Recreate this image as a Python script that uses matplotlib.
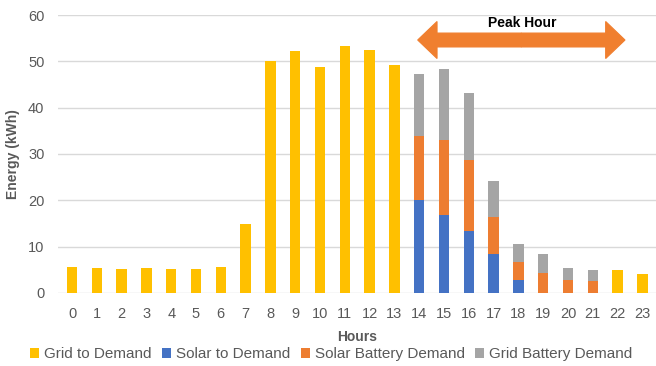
import numpy as np
import matplotlib
matplotlib.use('Agg')
import matplotlib.pyplot as plt
from matplotlib.patches import FancyArrow

plt.rcParams['font.family'] = ['Liberation Sans', 'DejaVu Sans']

hours = list(range(24))
grid_to_demand = [5.5, 5.4, 5.2, 5.3, 5.2, 5.2, 5.5, 14.9, 50.0, 52.2, 48.8, 53.3, 52.5, 49.3,
                  0, 0, 0, 0, 0, 0, 0, 0, 4.9, 4.1]
solar_to_demand = [0]*14 + [20.1, 16.9, 13.4, 8.3, 2.7, 0, 0, 0, 0, 0]
solar_battery = [0]*14 + [13.8, 16.0, 15.2, 8.0, 3.9, 4.2, 2.7, 2.5, 0, 0]
grid_battery = [0]*14 + [13.3, 15.4, 14.5, 7.8, 4.0, 4.1, 2.6, 2.4, 0, 0]

c_grid = '#FFC000'
c_solar = '#4472C4'
c_sbat = '#ED7D31'
c_gbat = '#A5A5A5'
txt = '#595959'

fig = plt.figure(figsize=(6.56, 3.66), dpi=100)
ax = fig.add_axes([0.089, 0.2, 0.911, 0.759])

x = np.arange(len(hours))
w = 0.42
g = np.array(grid_to_demand)
s = np.array(solar_to_demand)
sb = np.array(solar_battery)
gb = np.array(grid_battery)

ax.bar(x, g, w, color=c_grid, label='Grid to Demand', zorder=3)
ax.bar(x, s, w, color=c_solar, label='Solar to Demand', zorder=3)
ax.bar(x, sb, w, bottom=s, color=c_sbat, label='Solar Battery Demand', zorder=3)
ax.bar(x, gb, w, bottom=s + sb, color=c_gbat, label='Grid Battery Demand', zorder=3)

ax.set_xlim(-0.55, 23.55)
ax.set_ylim(0, 60)
ax.set_yticks(range(0, 61, 10))
ax.set_xticks(x)
ax.set_xticklabels([str(h) for h in hours])
ax.grid(axis='y', color='#D9D9D9', lw=1, zorder=0)
for sp in ax.spines.values():
    sp.set_visible(False)
ax.tick_params(length=0, colors=txt, labelsize=10.5, pad=10)
ax.tick_params(axis='y', pad=10)

ax.set_xlabel('Hours', color=txt, fontsize=10, fontweight='bold', labelpad=7)
ax.set_ylabel('Energy (kWh)', color=txt, fontsize=10, fontweight='bold', labelpad=6)

# peak hour arrow
left, right, ya = 13.94, 22.3, 54.6
mid = (left + right) / 2
for end in (left, right):
    ax.add_patch(FancyArrow(mid, ya, end - mid, 0, width=3.0, head_width=8.0,
                            head_length=0.78, length_includes_head=True,
                            fc='#F07F2F', ec='#F07F2F', lw=0.8, zorder=4))
ax.text(mid + 0.05, 58.2, 'Peak Hour', ha='center', va='center', fontsize=10,
        fontweight='bold', color='black', zorder=5)

fig.legend(loc='lower center', bbox_to_anchor=(0.505, -0.025), ncol=4, frameon=False,
           fontsize=11, handlelength=0.6, handleheight=0.6, handletextpad=0.3,
           columnspacing=0.7, labelcolor=txt)

fig.savefig('out.png', dpi=100)
